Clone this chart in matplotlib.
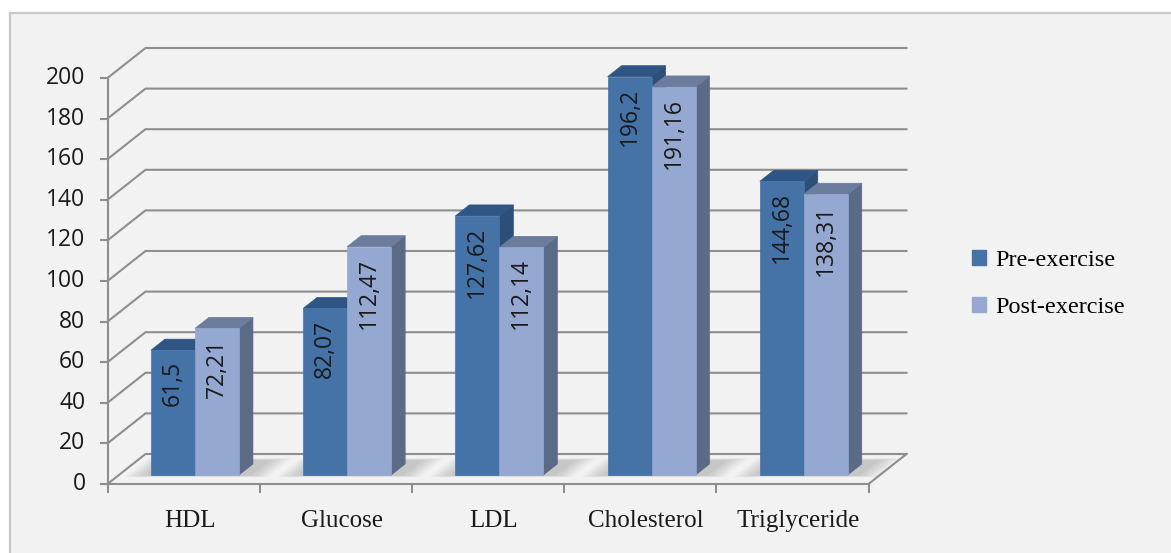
import matplotlib.pyplot as plt
from matplotlib.patches import Polygon, Rectangle, Patch

# ---- data ---------------------------------------------------------------
categories = ["HDL", "Glucose", "LDL", "Cholesterol", "Triglyceride"]
pre_exercise = [61.5, 82.07, 127.62, 196.2, 144.68]
post_exercise = [72.21, 112.47, 112.14, 191.16, 138.31]
series_names = ["Pre-exercise", "Post-exercise"]
y_ticks = list(range(0, 201, 20))

# ---- style --------------------------------------------------------------
PRE_FRONT, PRE_TOP, PRE_SIDE = "#4572a7", "#2f5584", "#2c4f7a"
POST_FRONT, POST_TOP, POST_SIDE = "#94a8d1", "#6c7c9c", "#5b6a87"
GRID = "#8e8e8e"
SANS = "Open Sans"
SERIF = "Liberation Serif"

W, H = 1171, 553
PX_CAT = 152.2        # pixels per category slot
PX_VAL = 2.03         # pixels per value unit
X0, Y0 = 107.5, 484   # front-left floor corner (pixels from top-left)

fig = plt.figure(figsize=(W / 100, H / 100), dpi=100)
fig.patch.set_facecolor("white")
fig.add_artist(Rectangle((10 / W, -0.1), 1.1, 1.1 - 13.5 / H,
                         transform=fig.transFigure, facecolor="#f2f2f2",
                         edgecolor="#c8c8c8", lw=1.6, zorder=0))

ax = fig.add_axes([0, 0, 1, 1])
ax.set_axis_off()
ax.patch.set_visible(False)
ax.set_xlim(-X0 / PX_CAT, (W - X0) / PX_CAT)
ax.set_ylim(-(H - Y0) / PX_VAL, Y0 / PX_VAL)

# depth offset of the back wall, in data units
DX = 38 / PX_CAT
DY = 30 / PX_VAL
n = len(categories)


def proj(x, v, d):
    """Oblique projection: category x, value v, depth d (0 front, 1 back)."""
    return x + d * DX, v + d * DY


# ---- walls, floor and axes ---------------------------------------------
for t in y_ticks:
    pts = [proj(0, t, 0), proj(0, t, 1), proj(n, t, 1)]
    ax.plot(*zip(*pts), color=GRID, lw=1.5, solid_joinstyle="miter", zorder=1)
    ax.plot([-7 / PX_CAT, 0], [t, t], color=GRID, lw=1.5, zorder=1)
    ax.text(-22 / PX_CAT, t, str(t), ha="right", va="center",
            family=SANS, fontsize=16.5, color="#1a1a1a")

floor = [proj(0, 0, 0), proj(n, 0, 0), proj(n, 0, 1)]
ax.plot(*zip(*floor), color=GRID, lw=1.5, solid_joinstyle="miter", zorder=1)
ax.plot([0, 0], [0, y_ticks[-1]], color=GRID, lw=1.5, zorder=1)
for i in range(n + 1):
    ax.plot([i, i], [0, -8 / PX_VAL], color=GRID, lw=1.5, zorder=1)

for i, cat in enumerate(categories):
    ax.text(i + 0.5 + 6 / PX_CAT, -43 / PX_VAL, cat, ha="center",
            va="baseline", family=SERIF, fontsize=18, color="#1a1a1a")

# ---- bars ---------------------------------------------------------------
BW = 0.289            # bar width in category units
F0, F1 = 0.30, 0.667  # bar depth span


def box(x0, x1, v, front, top, side, z):
    side_pts = [proj(x1, 0, F0), proj(x1, 0, F1), proj(x1, v, F1), proj(x1, v, F0)]
    top_pts = [proj(x0, v, F0), proj(x1, v, F0), proj(x1, v, F1), proj(x0, v, F1)]
    front_pts = [proj(x0, 0, F0), proj(x1, 0, F0), proj(x1, v, F0), proj(x0, v, F0)]
    for pts, col in ((side_pts, side), (top_pts, top), (front_pts, front)):
        ax.add_patch(Polygon(pts, closed=True, facecolor=col,
                             edgecolor=col, lw=0.5, zorder=z))


def shadow(x0, x1, z):
    # soft floor shadow: stacked translucent footprints, darkest at the core
    for k in range(8):
        e = 0.018 * (7 - k)
        pts = [proj(x0 - 0.03 - e, 0, F0 - 0.02 - 0.4 * e),
               proj(x1 + 0.08 + e, 0, F0 - 0.02 - 0.4 * e),
               proj(x1 + 0.08 + e, 0, min(F1 + 0.12 + 0.6 * e, 0.98)),
               proj(x0 - 0.03 - e, 0, min(F1 + 0.12 + 0.6 * e, 0.98))]
        ax.add_patch(Polygon(pts, closed=True, facecolor="#6a6a6a",
                             edgecolor="none", alpha=0.045, zorder=z))


for i in range(n):
    c = i + 0.5
    shadow(c - BW, c + BW, 2)
    box(c - BW, c, pre_exercise[i], PRE_FRONT, PRE_TOP, PRE_SIDE, 3)
    box(c, c + BW, post_exercise[i], POST_FRONT, POST_TOP, POST_SIDE, 4)
    for x0, v in ((c - BW, pre_exercise[i]), (c, post_exercise[i])):
        xc, _ = proj(x0 + BW / 2, v, F0)
        ax.text(xc, proj(0, v, F0)[1] - 11 / PX_VAL, str(v).replace(".", ","),
                rotation=90, ha="center", va="top", family=SANS,
                fontsize=16.5, color="#1a1a1a", zorder=6)

# ---- legend -------------------------------------------------------------
handles = [Patch(facecolor=PRE_FRONT, edgecolor=PRE_FRONT),
           Patch(facecolor=POST_FRONT, edgecolor=POST_FRONT)]
fig.legend(handles, series_names, loc="center left",
           bbox_to_anchor=(962 / W, 1 - 284 / H), frameon=False,
           handlelength=0.6, handleheight=0.6, handletextpad=0.35,
           labelspacing=1.05, borderaxespad=0,
           prop={"family": SERIF, "size": 17.5})

fig.savefig("out.png", dpi=100, facecolor=fig.get_facecolor())
